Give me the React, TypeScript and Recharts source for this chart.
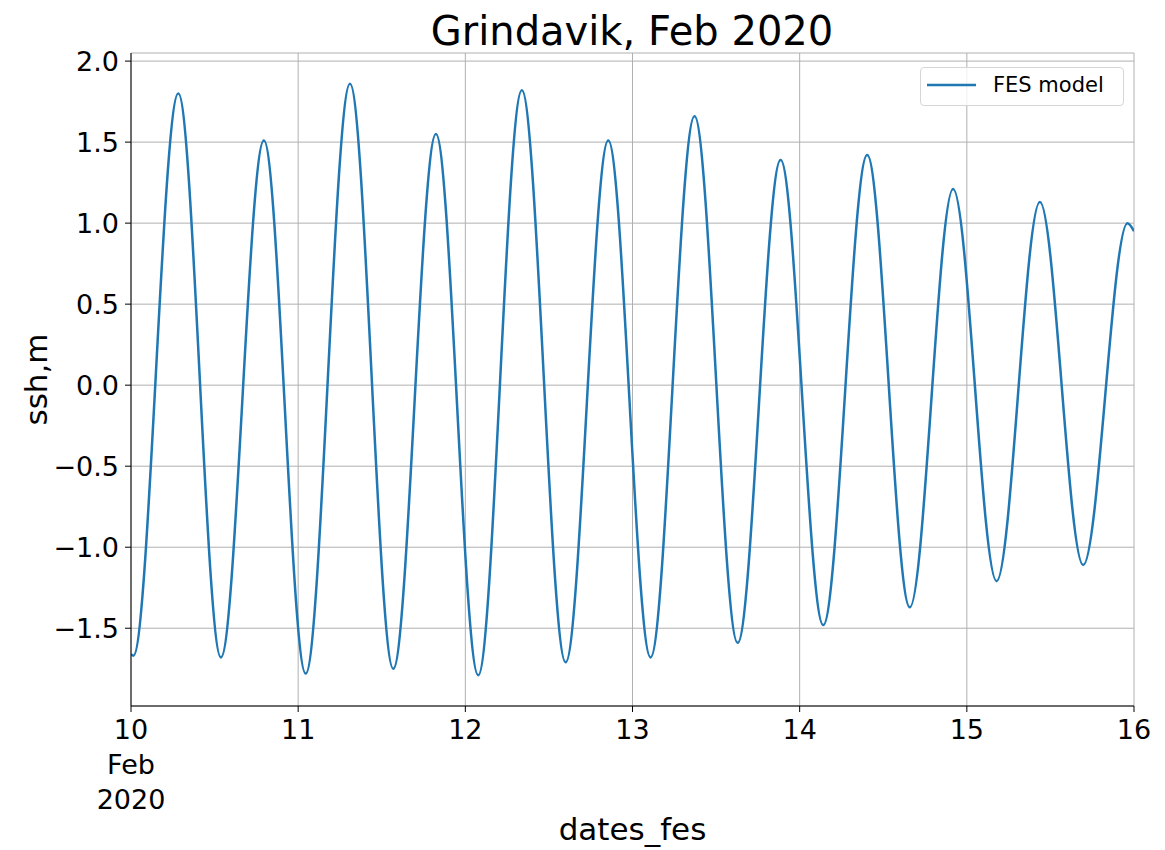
import {
  LineChart,
  Line,
  XAxis,
  YAxis,
  CartesianGrid,
  Legend,
  Label,
} from "recharts";

// time axis in days after 10 Feb 2020 00:00
const dayTicks = [0, 1, 2, 3, 4, 5, 6];
const dayLabels = ["10", "11", "12", "13", "14", "15", "16"];
const firstTickSub = ["Feb", "2020"];
const sshTicks = [-1.5, -1.0, -0.5, 0.0, 0.5, 1.0, 1.5, 2.0];

// high / low waters
const tideTimes = [
  0, 0.014, 0.283, 0.538, 0.795, 1.045, 1.31, 1.569, 1.824, 2.077, 2.338, 2.6,
  2.855, 3.108, 3.371, 3.629, 3.886, 4.141, 4.404, 4.659, 4.918, 5.178, 5.437,
  5.696, 5.961, 6.0,
];
const tideSsh = [
  -1.66, -1.67, 1.8, -1.68, 1.51, -1.78, 1.86, -1.75, 1.55, -1.79, 1.82, -1.71,
  1.51, -1.68, 1.66, -1.59, 1.39, -1.48, 1.42, -1.37, 1.21, -1.21, 1.13, -1.11,
  1.0, 0.95,
];

const seriesName = "FES model";
const titleText = "Grindavik, Feb 2020";
const xLabelText = "dates_fes";
const yLabelText = "ssh,m";

const data = tideTimes.map((t, i) => ({ t, ssh: tideSsh[i] }));

const FONT = "'DejaVu Sans', sans-serif";
const BLUE = "#1f77b4";

const fmtY = (v: number) => {
  const s = Math.abs(v).toFixed(1);
  return v < 0 ? `\u2212${s}` : s;
};

function DayTick(props: any) {
  const { x, y, payload, index } = props;
  const i = dayTicks.indexOf(payload.value);
  const lines = [dayLabels[i] ?? "", ...(index === 0 || i === 0 ? firstTickSub : [])];
  return (
    <text x={x} y={y} textAnchor="middle" fontFamily={FONT} fontSize={27} fill="#000">
      {lines.map((l, k) => (
        <tspan key={k} x={x} dy={k === 0 ? "0.71em" : 35}>
          {l}
        </tspan>
      ))}
    </text>
  );
}

function LegendBox() {
  return (
    <div
      style={{
        width: 202,
        height: 37,
        border: "1px solid #d6d6d6",
        borderRadius: 4,
        background: "rgba(255,255,255,0.8)",
        position: "relative",
        fontFamily: FONT,
      }}
    >
      <svg width={60} height={37} style={{ position: "absolute", left: 6, top: 0 }}>
        <line x1={0} x2={49} y1={17} y2={17} stroke={BLUE} strokeWidth={2.5} />
      </svg>
      <span
        style={{
          position: "absolute",
          left: 72,
          top: 5,
          fontSize: 21,
          lineHeight: "24px",
          color: "#000",
          whiteSpace: "nowrap",
        }}
      >
        {seriesName}
      </span>
    </div>
  );
}

export default function App() {
  return (
    <div style={{ position: "absolute", left: 0, top: 0, background: "#fff" }}>
      <LineChart
        width={1165}
        height={850}
        data={data}
        margin={{ top: 53, right: 31, bottom: 0, left: 0 }}
      >
        <CartesianGrid stroke="#b0b0b0" strokeWidth={1} />
        <XAxis
          dataKey="t"
          type="number"
          domain={[0, 6]}
          ticks={dayTicks}
          interval={0}
          height={144}
          tickSize={6}
          tickMargin={8}
          axisLine={{ stroke: "#000", strokeWidth: 1 }}
          tickLine={{ stroke: "#000" }}
          tick={<DayTick />}
          allowDataOverflow
        >
          <Label
            content={({ viewBox }: any) => (
              <text
                x={viewBox.x + viewBox.width / 2}
                y={840}
                textAnchor="middle"
                fontFamily={FONT}
                fontSize={31}
                fill="#000"
              >
                {xLabelText}
              </text>
            )}
          />
        </XAxis>
        <XAxis
          xAxisId="top"
          orientation="top"
          dataKey="t"
          type="number"
          domain={[0, 6]}
          height={0}
          tick={false}
          tickLine={false}
          axisLine={{ stroke: "#000", strokeWidth: 1 }}
        />
        <YAxis
          type="number"
          domain={[-1.98, 2.05]}
          ticks={sshTicks}
          interval={0}
          width={131}
          tickSize={6}
          tickMargin={6}
          tickFormatter={fmtY}
          axisLine={{ stroke: "#000", strokeWidth: 1 }}
          tickLine={{ stroke: "#000" }}
          tick={{ fontFamily: FONT, fontSize: 27, fill: "#000" }}
          allowDataOverflow
        >
          <Label
            content={({ viewBox }: any) => {
              const cx = 36;
              const cy = viewBox.y + viewBox.height / 2;
              return (
                <text
                  x={cx}
                  y={cy}
                  textAnchor="middle"
                  dominantBaseline="central"
                  transform={`rotate(-90, ${cx}, ${cy})`}
                  fontFamily={FONT}
                  fontSize={31}
                  fill="#000"
                >
                  {yLabelText}
                </text>
              );
            }}
          />
        </YAxis>
        <YAxis
          yAxisId="right"
          orientation="right"
          type="number"
          domain={[-1.98, 2.05]}
          width={0}
          tick={false}
          tickLine={false}
          axisLine={{ stroke: "#000", strokeWidth: 1 }}
        />
        <Legend
          layout="vertical"
          align="center"
          verticalAlign="middle"
          content={() => <LegendBox />}
          wrapperStyle={{ position: "absolute", top: 67, left: 920, width: 204 }}
        />
        <Line
          type="monotone"
          dataKey="ssh"
          name={seriesName}
          stroke={BLUE}
          strokeWidth={2.5}
          dot={false}
          activeDot={false}
          isAnimationActive={false}
        />
      </LineChart>
      {/* title sits above the plot frame */}
      <svg
        width={1165}
        height={60}
        style={{ position: "absolute", left: 0, top: 0, pointerEvents: "none" }}
      >
        <text x={632} y={45} textAnchor="middle" fontFamily={FONT} fontSize={40} fill="#000">
          {titleText}
        </text>
      </svg>
    </div>
  );
}
